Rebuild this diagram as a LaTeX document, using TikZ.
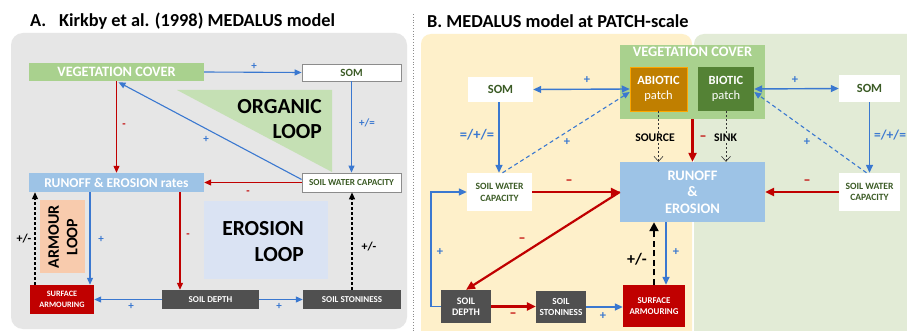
\documentclass[tikz,border=0pt]{standalone}
\usepackage{fontspec}
\setmainfont{Carlito}
\usetikzlibrary{arrows.meta,calc}
\definecolor{panelgrey}{HTML}{E6E6E6}
\definecolor{veggreen}{HTML}{A9D18E}
\definecolor{orgtri}{HTML}{C5E0B4}
\definecolor{runblue}{HTML}{9DC3E6}
\definecolor{armourc}{HTML}{F8CBAD}
\definecolor{erosc}{HTML}{DAE3F3}
\definecolor{sarmred}{HTML}{C00000}
\definecolor{soilgrey}{HTML}{505050}
\definecolor{arrblue}{HTML}{3A78D0}
\definecolor{arrred}{HTML}{C00000}
\definecolor{txtgreen}{HTML}{3B5B25}
\definecolor{orangepanel}{HTML}{FEF0CA}
\definecolor{greenpanel}{HTML}{E2EBD6}
\definecolor{abioticc}{HTML}{C07F00}
\definecolor{bioticc}{HTML}{548235}
\newcommand\fsz[2]{\fontsize{#1}{#2}\selectfont}
\tikzset{
  bx/.style={rectangle, inner sep=0pt, align=center, text=white, font=\bfseries},
  wbx/.style={rectangle, inner sep=0pt, align=center, fill=white, text=txtgreen, font=\bfseries},
  blA/.style={draw=arrblue, line width=1.1pt, -{Triangle[length=7pt,width=6pt]}},
  rdA/.style={draw=arrred, line width=1.1pt, -{Triangle[length=7pt,width=6pt]}},
  dkA/.style={draw=black, line width=1.1pt, dash pattern=on 3pt off 2pt, -{Triangle[length=7pt,width=6pt]}},
  blB/.style={draw=arrblue, line width=1.4pt, -{Triangle[length=8pt,width=7pt]}},
  blBB/.style={draw=arrblue, line width=1.4pt, {Triangle[length=8pt,width=7pt]}-{Triangle[length=8pt,width=7pt]}},
  bldash/.style={draw=arrblue, line width=1.1pt, dash pattern=on 4pt off 3pt, -{Triangle[length=7pt,width=6pt]}},
  rdB/.style={draw=arrred, line width=2.2pt, -{Triangle[length=9pt,width=8pt]}},
  srcA/.style={draw=black!80, line width=0.6pt, dash pattern=on 2pt off 2pt, -{Straight Barb[length=5pt,width=9pt]}},
  dkB/.style={draw=black, line width=2.2pt, dash pattern=on 6pt off 3.5pt, -{Triangle[length=9pt,width=9pt]}},
  plus/.style={text=arrblue, font=\fsz{11}{13}\bfseries},
  plusB/.style={text=arrblue, font=\fsz{12.5}{15}\bfseries},
  minusA/.style={text=arrred, font=\fsz{11}{13}\bfseries},
  minusB/.style={text=arrred, font=\fsz{14}{16}\bfseries},
  pm/.style={text=black, font=\fsz{12}{14}\bfseries},
  loopt/.style={text=black, font=\fsz{21.5}{25.5}\bfseries, align=right, inner sep=0pt},
}
\begin{document}
\begin{tikzpicture}[x=1pt,y=-1pt]
\useasboundingbox (0,0) rectangle (907,331);
\clip (0,0) rectangle (907,331);
\fill[white] (0,0) rectangle (907,331);
% ---------------- Panel A ----------------
\node[anchor=west, inner sep=0pt, font=\fsz{18.3}{21}\bfseries] (titleA) at (30,21) {A.\hspace{0.7em}Kirkby et al. (1998) MEDALUS model};
\fill[panelgrey, rounded corners=12pt] (11,33) rectangle (407,329);
\draw[black!45, dotted, line width=0.8pt] (413,14) -- (413,331);
% loops
\fill[orgtri] (177,90) -- (332,90) -- (332,172) -- cycle;
\node[loopt, anchor=east] (orgloop) at (322,119) {ORGANIC\\LOOP};
\node[rectangle, fill=armourc, minimum width=45pt, minimum height=73pt, inner sep=0pt] (armbox) at (62.5,236.5) {};
\node[rotate=90, align=center, font=\fsz{16}{18.5}\bfseries, inner sep=0pt] (armtxt) at (63,237) {ARMOUR\\LOOP};
\node[rectangle, fill=erosc, minimum width=124pt, minimum height=78pt, inner sep=0pt] (erbox) at (266,240) {};
\node[loopt, anchor=east] (erloop) at (304,241.5) {EROSION\\LOOP};
% boxes
\node[bx, fill=veggreen, minimum width=175pt, minimum height=18pt, font=\fsz{14.3}{16}\bfseries] (veg) at (116.5,72) {VEGETATION COVER};
\node[wbx, draw=black!45, line width=0.8pt, minimum width=99pt, minimum height=17pt, font=\fsz{11}{13}\bfseries] (somA) at (351.5,72.5) {SOM};
\node[bx, fill=runblue, minimum width=175pt, minimum height=19pt, font=\fsz{13.5}{15}\bfseries] (runA) at (116.5,182.5) {RUNOFF \& EROSION rates};
\node[wbx, draw=black!45, line width=0.8pt, minimum width=99pt, minimum height=19pt, font=\fsz{9.2}{11}\bfseries] (swcA) at (351.5,182.5) {SOIL WATER CAPACITY};
\node[bx, fill=sarmred, minimum width=64pt, minimum height=29pt, font=\fsz{8.2}{11}\bfseries] (sarmA) at (62,299.5) {SURFACE\\ARMOURING};
\node[bx, fill=soilgrey, minimum width=97pt, minimum height=19pt, font=\fsz{9}{11}\bfseries] (sdA) at (210.5,299.5) {SOIL DEPTH};
\node[bx, fill=soilgrey, minimum width=98pt, minimum height=19pt, font=\fsz{9}{11}\bfseries] (sstA) at (352,299.5) {SOIL STONINESS};
% connectors
\draw[blA] (veg.east) -- (somA.west);
\draw[blA] (somA.south) -- (swcA.north);
\draw[blA] ([yshift=3pt]swcA.west) -- ([xshift=2pt,yshift=-1pt]veg.south);
\draw[rdA] (veg.south) -- (runA.north);
\draw[rdA] (swcA.west) -- (runA.east);
\draw[blA] ([xshift=-26.5pt]runA.south) -- ([xshift=-26.5pt]runA.south |- sarmA.north);
\draw[dkA] ([xshift=-27pt]sarmA.north) -- ([xshift=-27pt]sarmA.north |- runA.south);
\draw[rdA] ([xshift=63.5pt]runA.south) -- ([xshift=63.5pt]runA.south |- sdA.north);
\draw[dkA] (sstA.north) -- (sstA.north |- swcA.south);
\draw[blA] (sdA.west) -- (sarmA.east);
\draw[blA] (sdA.east) -- (sstA.west);
% labels
\node[plus] (lA1) at (254,66) {+};
\node[plus] (lA2) at (367,123) {+/=};
\node[plus] (lA3) at (206,139) {+};
\node[minusA] (lA4) at (124,126) {-};
\node[minusA] (lA5) at (248,193) {-};
\node[plus] (lA6) at (101,239) {+};
\node[pm] (lA7) at (24,239) {+/-};
\node[minusA] (lA8) at (188,236) {-};
\node[pm] (lA9) at (369,247) {+/-};
\node[plus] (lA10) at (131,306) {+};
\node[plus] (lA11) at (279,306) {+};
% ---------------- Panel B ----------------
\node[anchor=west, inner sep=0pt, font=\fsz{18.3}{21}\bfseries] (titleB) at (427,21) {B. MEDALUS model at PATCH-scale};
\fill[orangepanel, rounded corners=10pt] (421,34) rectangle (692,350);
\fill[greenpanel, rounded corners=10pt] (694,34) rectangle (930,350);
\node[rectangle, fill=veggreen, minimum width=145pt, minimum height=74pt, inner sep=0pt,
      label={[anchor=north, text=white, font=\fsz{14.4}{16}\bfseries, inner sep=0pt, yshift=-2pt]north:VEGETATION COVER}] (vegB) at (692.5,82) {};
\node[bx, fill=abioticc, draw=orange!70!yellow, line width=0.5pt, minimum width=57pt, minimum height=44pt, font=\fsz{12.5}{15}] (abiotic) at (658.5,89) {\textbf{ABIOTIC}\\patch};
\node[bx, fill=bioticc, minimum width=56pt, minimum height=44pt, font=\fsz{12.5}{15}] (biotic) at (726,89) {\textbf{BIOTIC}\\patch};
\node[wbx, minimum width=65pt, minimum height=25pt, font=\fsz{12.5}{14}\bfseries] (somL) at (500.5,89.5) {SOM};
\node[wbx, minimum width=61pt, minimum height=27pt, font=\fsz{12.5}{14}\bfseries] (somR) at (869.5,88.5) {SOM};
\node[bx, fill=runblue, minimum width=145pt, minimum height=60pt, font=\fsz{14.5}{16.5}\bfseries] (runB) at (692.5,192) {RUNOFF\\\&\\EROSION};
\node[wbx, minimum width=65pt, minimum height=38pt, font=\fsz{9.6}{12}\bfseries] (swcL) at (499.5,192) {SOIL WATER\\CAPACITY};
\node[wbx, minimum width=61pt, minimum height=38pt, font=\fsz{9.6}{11}\bfseries] (swcR) at (869.5,192) {SOIL WATER\\CAPACITY};
\node[bx, fill=soilgrey, minimum width=50pt, minimum height=33pt, font=\fsz{10}{11}\bfseries] (sdB) at (466,306.5) {SOIL\\DEPTH};
\node[bx, fill=soilgrey, minimum width=50pt, minimum height=32pt, font=\fsz{9.3}{11}\bfseries] (sstB) at (561,307) {SOIL\\STONINESS};
\node[bx, fill=sarmred, minimum width=62pt, minimum height=42pt, font=\fsz{8.9}{11}\bfseries] (sarmB) at (654,306) {SURFACE\\ARMOURING};
% connectors
\draw[blBB] (somL.east) -- (abiotic.west);
\draw[blBB] (biotic.east) -- (somR.west);
\draw[blB] ([xshift=-1.5pt]somL.south) -- ([xshift=-1.5pt]somL.south |- swcL.north);
\draw[blB] (somR.south) -- (swcR.north);
\draw[bldash] ([xshift=3pt]swcL.north) -- ([yshift=-3pt]abiotic.west);
\draw[bldash] ([xshift=-3pt]swcR.north) -- ([yshift=-3pt]biotic.east);
\draw[srcA] (abiotic.south) -- (abiotic.south |- runB.north);
\draw[srcA] (biotic.south) -- (biotic.south |- runB.north);
\draw[rdB] (vegB.south) -- (runB.north);
\draw[rdB] (swcL.east) -- (swcL.east -| runB.west);
\draw[rdB] (swcR.west) -- (runB.east);
\draw[rdB] (runB.west) -- (sdB.north);
\draw[blB] (sdB.west) -- ([xshift=-10pt]sdB.west) |- (swcL.west);
\draw[rdB] (sdB.east) -- (sdB.east -| sstB.west);
\draw[blB] (sstB.east) -- (sstB.east -| sarmB.west);
\draw[blB] ([xshift=12pt]sarmB.north |- runB.south) -- ([xshift=12pt]sarmB.north);
\draw[dkB] (sarmB.north) -- (sarmB.north |- runB.south);
% labels
\node[fill=orangepanel, inner sep=1pt, font=\fsz{11.7}{13}\bfseries] (source) at (655,138) {SOURCE};
\node[fill=greenpanel, inner sep=1pt, font=\fsz{11.7}{13}\bfseries] (sink) at (725.5,138) {SINK};
\node[minusB] (lB0) at (703,138) {–};
\node[plusB] (lB1) at (587,80) {+};
\node[plusB] (lB2) at (795,80) {+};
\node[plusB, font=\fsz{14.5}{16}\bfseries] (lB3) at (477,135) {=/+/=};
\node[plusB, font=\fsz{13.5}{16}\bfseries, anchor=west, inner sep=0pt] (lB4) at (874,135) {=/+/=};
\node[plusB] (lB5) at (567,142) {+};
\node[plusB] (lB6) at (807,142) {+};
\node[minusB] (lB7) at (569,182) {–};
\node[minusB] (lB8) at (807,182) {–};
\node[minusB] (lB9) at (522,240) {–};
\node[plusB] (lB10) at (440,252) {+};
\node[minusB] (lB11) at (513,315) {–};
\node[plusB] (lB12) at (603,316) {+};
\node[plusB] (lB13) at (676,252) {+};
\node[text=black, font=\fsz{16}{18}\bfseries] (lB14) at (637,259) {+/-};
\end{tikzpicture}
\end{document}
